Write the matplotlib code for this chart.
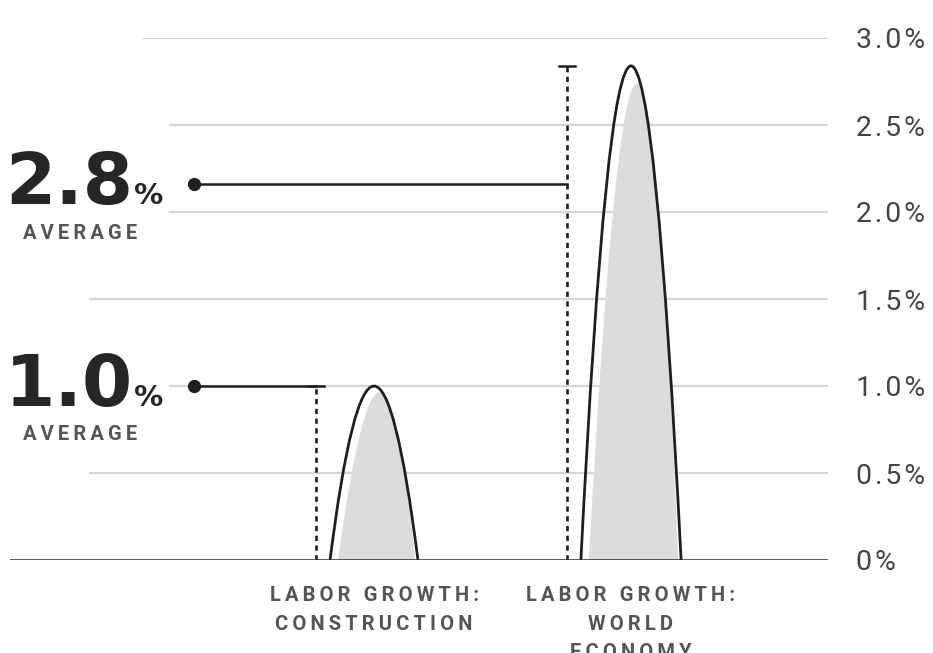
import matplotlib
import matplotlib.pyplot as plt
from matplotlib.path import Path
from matplotlib.patches import PathPatch

matplotlib.use('Agg')

# chart data
categories = ['LABOR GROWTH:\nCONSTRUCTION', 'LABOR GROWTH:\nWORLD\nECONOMY']
averages = [1.0, 2.84]
y_ticks = [0, 0.5, 1.0, 1.5, 2.0, 2.5, 3.0]
y_tick_labels = ['0%', '0.5%', '1.0%', '1.5%', '2.0%', '2.5%', '3.0%']

# layout (pixels / axes fractions)
curve_half_width = [0.171, 0.195]
label_line_y = [1.0, 2.16]
grid_start = {0.5: 0.098, 1.0: 0.196, 1.5: 0.098, 2.0: 0.196, 2.5: 0.196, 3.0: 0.163}

INK = '#1f1f1f'
GRAY_TXT = '#555555'
FILL = '#dcdcdc'
GRID = '#d6d6d6'
PX = 257.0  # pixels per category unit

plt.rcParams['font.family'] = ['Roboto', 'DejaVu Sans']


def spaced(s, sep='\u2009'):
    return '\n'.join(sep.join(line) for line in s.split('\n'))


def main() -> None:
    fig = plt.figure(figsize=(9.33, 6.53), dpi=100)
    ax = fig.add_axes([10 / 933, 93 / 653, 818 / 933, 522 / 653])
    ax.set_xlim((10 - 374) / PX, (828 - 374) / PX)
    ax.set_ylim(0, 3.0)
    for s in ax.spines.values():
        s.set_visible(False)

    # gridlines
    for y in y_ticks[1:]:
        ax.axhline(y, xmin=grid_start[y], xmax=1, color=GRID, lw=1.6, zorder=0)
    ax.axhline(0, color='#2a2a2a', lw=1.8, zorder=5)

    # y tick labels on the right
    ax.yaxis.tick_right()
    ax.set_yticks(y_ticks)
    ax.set_yticklabels([spaced(t, '\u200a') for t in y_tick_labels])
    ax.tick_params(axis='y', length=0, pad=20, labelsize=20.5, labelcolor='#444444')

    ax.set_xticks(range(len(categories)))
    ax.set_xticklabels([spaced(c) for c in categories], fontsize=14.5,
                       fontweight='bold', color=GRAY_TXT, linespacing=1.62)
    ax.tick_params(axis='x', length=0, pad=19)

    for i, (val, w) in enumerate(zip(averages, curve_half_width)):
        # inner grey fill, shifted right and a bit lower
        fx0 = i - w + 8 / PX
        fx1 = i + w - 3 / PX
        peak = i + 6 / PX
        ctrl = (peak - 0.25 * (fx0 + fx1)) / 0.5
        fh = val * 0.965
        fill_path = Path([(fx0, 0), (ctrl, 2 * fh), (fx1, 0), (fx0, 0)],
                         [Path.MOVETO, Path.CURVE3, Path.CURVE3, Path.CLOSEPOLY])
        ax.add_patch(PathPatch(fill_path, facecolor=FILL, edgecolor='none', zorder=2))
        # outline
        outline = Path([(i - w, 0), (i, 2 * val), (i + w, 0)],
                       [Path.MOVETO, Path.CURVE3, Path.CURVE3])
        ax.add_patch(PathPatch(outline, facecolor='none', edgecolor=INK, lw=2.0, zorder=3))

        # dotted range marker
        dx = i - w - 14 / PX
        ax.plot([dx, dx], [0, val], color=INK, lw=1.9, linestyle=(0, (2.0, 1.7)), zorder=3)
        ax.plot([dx - 8 / PX, dx + 8 / PX], [val, val], color=INK, lw=1.8, zorder=3)

        # label connector
        ly = label_line_y[i]
        dot_x = (194 - 374) / PX
        ax.plot([dot_x, dx], [ly, ly], color=INK, lw=1.8, zorder=4)
        ax.plot([dot_x], [ly], 'o', color=INK, ms=8.5, zorder=4)

        # big label
        ax.annotate(f'{val:.1f}', xy=(133, ly), xycoords=('figure pixels', 'data'),
                    xytext=(0, -20), textcoords='offset pixels', ha='right',
                    va='baseline', fontsize=52, fontweight='bold', color='#262626',
                    family=['DejaVu Sans'])
        ax.annotate('%', xy=(134, ly), xycoords=('figure pixels', 'data'),
                    xytext=(0, -20), textcoords='offset pixels', ha='left',
                    va='baseline', fontsize=21, fontweight='bold', color='#262626',
                    family=['DejaVu Sans'])
        ax.annotate(spaced('AVERAGE'), xy=(80, ly), xycoords=('figure pixels', 'data'),
                    xytext=(0, -49), textcoords='offset pixels', ha='center',
                    va='center', fontsize=14.5, fontweight='bold', color=GRAY_TXT)

    fig.savefig('out.png', dpi=100)


if __name__ == '__main__':
    main()
